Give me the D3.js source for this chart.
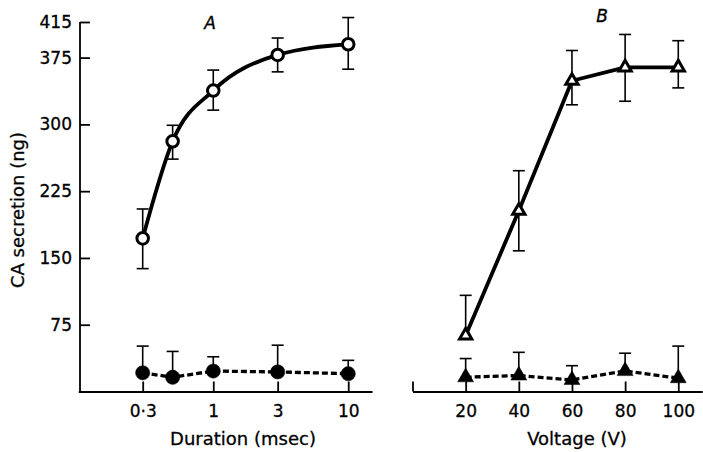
<!DOCTYPE html>
<html>
<head>
<meta charset="utf-8">
<script src="https://cdn.jsdelivr.net/npm/d3@7/dist/d3.min.js"></script>
<style>
  html, body { margin: 0; padding: 0; background: #fff; }
  svg { display: block; }
  text { font-family: "DejaVu Sans", Verdana, sans-serif; fill: #000; }
</style>
</head>
<body>
<svg id="chart" width="703" height="452"></svg>
<script>
// Panel A: stimulus duration (msec), log axis
const durations      = [0.3, 0.5, 1, 3, 10];
const durTicks       = [0.3, 1, 3, 10];
const durTickLabels  = ["0·3", "1", "3", "10"];
const durOpen        = [172, 281, 338, 378, 390];
const durOpenErrHi   = [33, 18, 23, 19, 30];
const durOpenErrLo   = [34, 20, 22, 19, 28];
const durFilled      = [21, 16, 23, 22, 20];
const durFilledErr   = [30, 29, 16, 30, 15];

// Panel B: stimulus voltage (V)
const voltages       = [20, 40, 60, 80, 100];
const voltTicks      = [0, 20, 40, 60, 80, 100];
const voltOpen       = [63, 203, 349, 364, 364];
const voltOpenErrHi  = [45, 45, 34, 37, 30];
const voltOpenErrLo  = [0, 45, 27, 38, 23];
const voltFilled     = [16, 18, 13, 23, 15];
const voltFilledErr  = [21, 26, 16, 20, 36];

// Shared secretion axis
const yTicks = [75, 150, 225, 300, 375, 415];

const svg = d3.select("#chart");

const y  = d3.scaleLinear().domain([0, 415]).range([391.5, 22]);
const xA = d3.scaleLog().domain([0.1, 15]).range([78.3, 372]);
const xB = d3.scaleLinear().domain([0, 109]).range([412.5, 702.2]);

const TICK_FONT = 17;
const TITLE_FONT = 18;

// ---- axes ----
const yAxis = d3.axisLeft(y).tickValues(yTicks).tickSizeInner(-10).tickSizeOuter(0).tickPadding(8);
const gy = svg.append("g").attr("transform", `translate(${xA.range()[0] + 1.7},0)`).call(yAxis);
gy.select(".domain").attr("d", `M0,${y(415)}V${y(0)}`);

const axA = d3.axisBottom(xA).tickValues(durTicks)
  .tickFormat((d, i) => durTickLabels[i]).tickSizeInner(-10).tickSizeOuter(0).tickPadding(13);
const gxA = svg.append("g").attr("transform", `translate(0,${y(0)})`).call(axA);

const axB = d3.axisBottom(xB).tickValues(voltTicks)
  .tickFormat(d => d === 0 ? "" : d).tickSizeInner(-10).tickSizeOuter(0).tickPadding(13);
const gxB = svg.append("g").attr("transform", `translate(0,${y(0)})`).call(axB);

[gy, gxA, gxB].forEach(g => {
  g.selectAll("path, line").attr("stroke", "#000").attr("stroke-width", 1.8);
  g.selectAll("text").attr("font-size", TICK_FONT).attr("fill", "#000")
    .attr("font-family", "DejaVu Sans, Verdana, sans-serif")
    .attr("stroke", "#000").attr("stroke-width", 0.3);
});

// axis titles
function title(sel) {
  return sel.attr("text-anchor", "middle").attr("font-size", TITLE_FONT)
    .attr("stroke", "#000").attr("stroke-width", 0.3);
}
title(svg.append("text").attr("transform", "translate(24,210) rotate(-90)")).text("CA secretion (ng)");
title(svg.append("text").attr("x", 243).attr("y", 445)).text("Duration (msec)");
title(svg.append("text").attr("x", 577).attr("y", 445)).text("Voltage (V)");

// panel letters
svg.append("text").attr("x", 210).attr("y", 29).attr("text-anchor", "middle")
  .attr("font-size", 17).attr("font-style", "italic")
  .attr("stroke", "#000").attr("stroke-width", 0.35).text("A");
svg.append("text").attr("x", 602).attr("y", 22).attr("text-anchor", "middle")
  .attr("font-size", 17).attr("font-style", "italic")
  .attr("stroke", "#000").attr("stroke-width", 0.35).text("B");

// ---- series drawing ----
function drawErrors(xs, vals, hi, lo, xScale) {
  const g = svg.append("g").attr("stroke", "#000").attr("stroke-width", 1.6).attr("fill", "none");
  const cap = 6;
  xs.forEach((xv, i) => {
    const px = xScale(xv);
    const top = y(vals[i] + hi[i]);
    g.append("line").attr("x1", px).attr("x2", px).attr("y1", y(vals[i])).attr("y2", top);
    g.append("line").attr("x1", px - cap).attr("x2", px + cap).attr("y1", top).attr("y2", top);
    if (lo[i] > 0) {
      const bot = y(vals[i] - lo[i]);
      g.append("line").attr("x1", px).attr("x2", px).attr("y1", y(vals[i])).attr("y2", bot);
      g.append("line").attr("x1", px - cap).attr("x2", px + cap).attr("y1", bot).attr("y2", bot);
    }
  });
}

function drawLine(xs, vals, xScale, curve, dashed) {
  const line = d3.line().x(d => xScale(d[0])).y(d => y(d[1])).curve(curve);
  svg.append("path").datum(xs.map((d, i) => [d, vals[i]]))
    .attr("d", line).attr("fill", "none").attr("stroke", "#000")
    .attr("stroke-width", dashed ? 3.3 : 3.8)
    .attr("stroke-dasharray", dashed ? "6,3" : null)
    .attr("stroke-linejoin", "round");
}

function drawMarkers(xs, vals, xScale, type, size, filled) {
  const sym = d3.symbol().type(type).size(size);
  svg.append("g").selectAll("path").data(xs).join("path")
    .attr("transform", (d, i) => `translate(${xScale(d)},${y(vals[i])})`)
    .attr("d", sym)
    .attr("fill", filled ? "#000" : "#fff")
    .attr("stroke", "#000")
    .attr("stroke-width", filled ? 0.5 : 3);
}

const zeros = durations.map(() => 0);

// Panel A
drawErrors(durations, durOpen, durOpenErrHi, durOpenErrLo, xA);
drawErrors(durations, durFilled, durFilledErr, zeros, xA);
drawLine(durations, durOpen, xA, d3.curveMonotoneX, false);
drawLine(durations, durFilled, xA, d3.curveLinear, true);
drawMarkers(durations, durOpen, xA, d3.symbolCircle, 105, false);
drawMarkers(durations, durFilled, xA, d3.symbolCircle, 160, true);

// Panel B
drawErrors(voltages, voltOpen, voltOpenErrHi, voltOpenErrLo, xB);
drawErrors(voltages, voltFilled, voltFilledErr, zeros, xB);
drawLine(voltages, voltOpen, xB, d3.curveLinear, false);
drawLine(voltages, voltFilled, xB, d3.curveLinear, true);
drawMarkers(voltages, voltOpen, xB, d3.symbolTriangle, 65, false);
drawMarkers(voltages, voltFilled, xB, d3.symbolTriangle, 110, true);
</script>
</body>
</html>
